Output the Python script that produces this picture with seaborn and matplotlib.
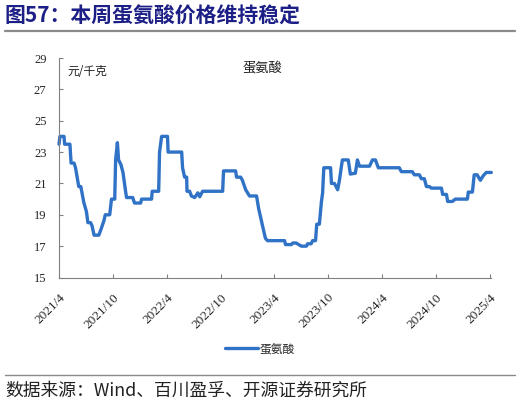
import matplotlib
matplotlib.use("Agg")
import matplotlib.pyplot as plt
import matplotlib.transforms as mtransforms
import seaborn as sns
import pandas as pd
from matplotlib.lines import Line2D

# ---- data ----
dates = [
    "2021-04-01", "2021-04-04", "2021-04-18", "2021-04-20", "2021-05-08", "2021-05-12",
    "2021-05-22", "2021-05-27", "2021-06-07", "2021-06-14", "2021-06-24", "2021-07-03",
    "2021-07-08", "2021-07-17", "2021-07-22", "2021-07-29", "2021-08-14", "2021-08-20",
    "2021-08-31", "2021-09-05", "2021-09-20", "2021-09-26", "2021-10-07", "2021-10-10",
    "2021-10-16", "2021-10-20", "2021-10-28", "2021-11-04", "2021-11-12", "2021-11-16",
    "2021-12-07", "2021-12-13", "2022-01-03", "2022-01-06", "2022-02-09", "2022-02-11",
    "2022-03-05", "2022-03-08", "2022-03-15", "2022-04-04", "2022-04-06", "2022-05-22",
    "2022-05-25", "2022-06-01", "2022-06-08", "2022-06-09", "2022-06-18", "2022-06-24",
    "2022-07-05", "2022-07-16", "2022-07-22", "2022-08-01", "2022-10-08", "2022-10-11",
    "2022-11-21", "2022-11-24", "2022-12-08", "2022-12-14", "2022-12-25", "2023-01-07",
    "2023-01-31", "2023-02-07", "2023-02-19", "2023-03-02", "2023-03-09", "2023-05-06",
    "2023-05-09", "2023-05-29", "2023-06-03", "2023-06-14", "2023-07-02", "2023-07-19",
    "2023-07-23", "2023-08-04", "2023-08-09", "2023-08-19", "2023-08-23", "2023-09-01",
    "2023-09-08", "2023-09-12", "2023-09-16", "2023-10-09", "2023-10-12", "2023-10-22",
    "2023-11-02", "2023-11-08", "2023-11-14", "2023-11-18", "2023-12-08", "2023-12-15",
    "2024-01-01", "2024-01-08", "2024-01-15", "2024-02-18", "2024-02-28", "2024-03-09",
    "2024-03-19", "2024-05-29", "2024-06-05", "2024-07-12", "2024-07-19", "2024-08-05",
    "2024-08-12", "2024-08-22", "2024-08-29", "2024-09-08", "2024-09-15", "2024-10-19",
    "2024-10-23", "2024-11-05", "2024-11-09", "2024-11-25", "2024-12-05", "2025-01-15",
    "2025-01-18", "2025-02-01", "2025-02-07", "2025-02-17", "2025-02-28", "2025-03-10",
    "2025-03-20", "2025-04-06",
]
methionine = [
    23.5, 24.0, 24.0, 23.5, 23.5, 22.3,
    22.3, 22.0, 20.8, 20.8, 19.8, 19.2,
    18.5, 18.5, 18.3, 17.7, 17.7, 18.0,
    18.6, 19.0, 19.0, 20.0, 20.0, 22.5,
    23.6, 22.5, 22.2, 21.7, 20.6, 20.1,
    20.1, 19.75, 19.75, 20.0, 20.0, 20.5,
    20.5, 23.0, 24.0, 24.0, 23.0, 23.0,
    22.0, 21.4, 21.4, 20.5, 20.5, 20.2,
    20.1, 20.4, 20.15, 20.5, 20.5, 21.8,
    21.8, 21.4, 21.4, 21.2, 20.6, 20.2,
    20.2, 19.4, 18.4, 17.5, 17.35, 17.35,
    17.1, 17.1, 17.2, 17.2, 17.0, 17.0,
    17.15, 17.15, 17.35, 17.35, 18.4, 18.4,
    19.85, 20.4, 22.0, 22.0, 21.0, 21.0,
    20.6, 21.2, 22.0, 22.5, 22.5, 21.6,
    21.65, 22.5, 22.1, 22.1, 22.5, 22.5,
    22.0, 22.0, 21.75, 21.75, 21.55, 21.55,
    21.3, 21.3, 20.8, 20.8, 20.7, 20.7,
    20.3, 20.3, 19.85, 19.85, 20.0, 20.0,
    20.45, 20.45, 21.55, 21.55, 21.2, 21.5,
    21.7, 21.7,
]
series_name = "蛋氨酸"
unit_label = "元/千克"
title_text = "图57：本周蛋氨酸价格维持稳定"
source_text = "数据来源：Wind、百川盈孚、开源证券研究所"
yticks = [15, 17, 19, 21, 23, 25, 27, 29]
xtick_dates = ["2021-04-01", "2021-10-01", "2022-04-01", "2022-10-01", "2023-04-01",
               "2023-10-01", "2024-04-01", "2024-10-01", "2025-04-01"]
xtick_labels = ["2021/4", "2021/10", "2022/4", "2022/10", "2023/4",
                "2023/10", "2024/4", "2024/10", "2025/4"]

df = pd.DataFrame({"date": pd.to_datetime(dates), "value": methionine})

sns.set_theme(style="white")
plt.rcParams['font.family'] = ['Liberation Serif', 'Noto Sans CJK SC', 'DejaVu Sans']
cjk = ['Noto Sans CJK SC', 'DejaVu Sans']

W, H = 521, 405
fig = plt.figure(figsize=(W / 100, H / 100), dpi=100)
ax = fig.add_axes([59 / W, 1 - 277.5 / H, (491 - 59) / W, (277.5 - 58) / H])

line_color = "#2f72c6"
sns.lineplot(data=df, x="date", y="value", ax=ax, color=line_color, linewidth=2.4,
             legend=False, clip_on=False)

ax.set_ylim(15, 29)
ax.set_yticks(yticks)
ax.set_xlim(pd.Timestamp("2021-04-01"), pd.Timestamp("2025-04-05"))
ax.set_xticks(pd.to_datetime(xtick_dates))
ax.set_xticklabels(xtick_labels, rotation=45, ha="right", va="top",
                   rotation_mode="anchor", fontsize=9.5)
offset = mtransforms.ScaledTranslation(5 / 100, 0, fig.dpi_scale_trans)
for lbl in ax.get_xticklabels():
    lbl.set_transform(lbl.get_transform() + offset)
ax.tick_params(axis="y", labelsize=9, direction="in", length=3, width=0.8,
               color="#808080", pad=9, left=True)
ax.tick_params(axis="x", direction="in", length=3, width=0.8, color="#808080",
               pad=10, bottom=True)
ax.set_xlabel("")
ax.set_ylabel("")
for side in ["top", "right"]:
    ax.spines[side].set_visible(False)
for side in ["left", "bottom"]:
    ax.spines[side].set_color("#808080")
    ax.spines[side].set_linewidth(0.8)
ax.grid(False)

ax.text(0.02, 0.94, unit_label, transform=ax.transAxes, fontsize=8.5,
        family=cjk, ha="left", va="center", color="#222222")
ax.text(0.47, 0.95, series_name, transform=ax.transAxes, fontsize=9.5,
        family=cjk, ha="center", va="center", color="#222222")

handle = Line2D([], [], color=line_color, linewidth=2.4)
leg = fig.legend([handle], [series_name], loc="center", bbox_to_anchor=(260 / W, 1 - 349 / H),
                 frameon=False, handlelength=2.8, handletextpad=0.2,
                 prop={"family": cjk, "size": 8.5})

# title and rules
fig.text(5 / W, 1 - 16 / H, title_text, fontsize=15, fontweight="bold",
         color="#1c1f85", family=cjk, ha="left", va="center")
fig.add_artist(Line2D([5 / W, 515 / W], [1 - 31 / H, 1 - 31 / H], color="#8a8a8a",
                      linewidth=1.6, transform=fig.transFigure))
fig.add_artist(Line2D([5 / W, 515 / W], [1 - 375 / H, 1 - 375 / H], color="#8a8a8a",
                      linewidth=1.0, transform=fig.transFigure))
fig.text(5 / W, 1 - 391 / H, source_text, fontsize=12.8, color="#222222",
         family=cjk, ha="left", va="center")

fig.savefig("out.png", dpi=100)
